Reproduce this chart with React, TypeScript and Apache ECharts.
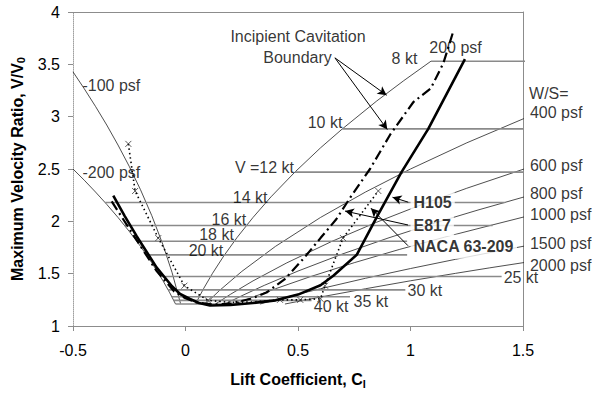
import React, { useEffect, useRef } from "react";
import * as echarts from "echarts";

const FONT = '"Liberation Sans", Arial, Helvetica, sans-serif';

// axes
const xMin = -0.5;
const xMax = 1.5;
const xStep = 0.5;
const yMin = 1;
const yMax = 4;
const yStep = 0.5;

// constant speed lines (V/V0 level, start Cl, end Cl)
const speedNames = ["8 kt", "10 kt", "V =12 kt", "14 kt", "16 kt", "18 kt", "20 kt", "25 kt", "30 kt", "35 kt", "40 kt", ""];
const speedRatio = [3.53, 2.883, 2.47, 2.18, 1.96, 1.81, 1.68, 1.473, 1.345, 1.28, 1.245, 1.21];
const speedFrom = [1.091, 0.697, 0.486, -0.357, -0.271, -0.217, -0.174, -0.111, -0.077, -0.061, -0.053, -0.044];
const speedTo = [1.52, 1.5, 1.5, 1.42, 1.365, 0.985, 0.985, 1.405, 0.977, 0.731, 0.56, 0.25];
const speedLabelX = [0.973, 0.62, 0.351, 0.287, 0.193, 0.138, 0.091, 1.491, 1.064, 0.824, 0.647, 0];
const speedLabelY = [3.555, 2.94, 2.514, 2.23, 2.013, 1.872, 1.722, 1.464, 1.336, 1.237, 1.189, 0];

// constant wing loading lines
const wsNeg100 = [[-0.5, 3.428], [-0.45, 3.267], [-0.4, 3.098], [-0.35, 2.92], [-0.3, 2.729], [-0.25, 2.525], [-0.2, 2.302], [-0.15, 2.055], [-0.1, 1.775], [-0.06, 1.513], [-0.022, 1.214]];
const wsNeg200 = [[-0.5, 2.5], [-0.45, 2.393], [-0.4, 2.28], [-0.35, 2.162], [-0.3, 2.037], [-0.25, 1.904], [-0.2, 1.761], [-0.15, 1.605], [-0.1, 1.432], [-0.07, 1.317], [-0.044, 1.209]];
const ws200 = [[0.045, 1.213], [0.08, 1.356], [0.12, 1.503], [0.17, 1.669], [0.23, 1.848], [0.3, 2.037], [0.38, 2.234], [0.486, 2.47], [0.6, 2.702], [0.697, 2.883], [0.85, 3.15], [0.97, 3.344], [1.091, 3.53]];
const ws400 = [[0.088, 1.209], [0.15, 1.337], [0.25, 1.521], [0.4, 1.761], [0.6, 2.037], [0.8, 2.28], [1.0, 2.5], [1.25, 2.75], [1.513, 2.99]];
const ws600 = [[0.133, 1.21], [0.2, 1.303], [0.3, 1.431], [0.45, 1.603], [0.65, 1.808], [0.85, 1.992], [1.05, 2.16], [1.25, 2.316], [1.513, 2.506]];
const ws800 = [[0.175, 1.21], [0.25, 1.289], [0.35, 1.388], [0.5, 1.525], [0.7, 1.69], [0.9, 1.84], [1.1, 1.979], [1.3, 2.108], [1.513, 2.238]];
const ws1000 = [[0.221, 1.21], [0.3, 1.277], [0.4, 1.356], [0.55, 1.468], [0.75, 1.605], [0.95, 1.731], [1.15, 1.848], [1.35, 1.958], [1.51, 2.045]];
const ws1500 = [[0.331, 1.21], [0.45, 1.277], [0.6, 1.356], [0.8, 1.456], [1.0, 1.549], [1.2, 1.637], [1.35, 1.7], [1.505, 1.763]];
const ws2000 = [[0.442, 1.21], [0.6, 1.277], [0.8, 1.356], [1.0, 1.432], [1.2, 1.503], [1.35, 1.555], [1.51, 1.608]];
const wsCurves = [wsNeg100, wsNeg200, ws200, ws400, ws600, ws800, ws1000, ws1500, ws2000];

const wsLabels = ["-100 psf", "-200 psf", "200 psf", "W/S=", "400 psf", "600 psf", "800 psf", "1000 psf", "1500 psf", "2000 psf"];
const wsLabelX = [-0.458, -0.458, 1.2, 1.527, 1.531, 1.531, 1.531, 1.531, 1.531, 1.531];
const wsLabelY = [3.3, 2.467, 3.664, 3.224, 3.044, 2.538, 2.263, 2.069, 1.785, 1.582];
const wsLabelAlign = ["left", "left", "center", "left", "left", "left", "left", "left", "left", "left"];

// foil sections
const h105 = [[-0.321, 2.246], [-0.27, 2.05], [-0.217, 1.858], [-0.128, 1.558], [-0.06, 1.38], [-0.024, 1.306], [0.02, 1.258], [0.06, 1.22], [0.109, 1.196], [0.2, 1.2], [0.3, 1.22], [0.4, 1.245], [0.5, 1.3], [0.6, 1.39], [0.657, 1.48], [0.761, 1.68], [0.85, 2.04], [0.96, 2.47], [1.079, 2.883], [1.242, 3.55]];
const e817 = [[-0.328, 2.19], [-0.22, 1.83], [-0.13, 1.53], [-0.05, 1.33], [0.0, 1.265], [0.05, 1.225], [0.12, 1.205], [0.2, 1.215], [0.29, 1.26], [0.36, 1.32], [0.44, 1.445], [0.527, 1.65], [0.6, 1.84], [0.67, 2.02], [0.73, 2.22], [0.82, 2.5], [0.91, 2.83], [1.013, 3.14], [1.09, 3.27], [1.146, 3.51], [1.188, 3.8]];
const naca = [[-0.254, 2.74], [-0.224, 2.29], [-0.121, 1.84], [-0.005, 1.385], [0.1, 1.245], [0.2, 1.225], [0.3, 1.23], [0.42, 1.25], [0.51, 1.25], [0.6, 1.26], [0.62, 1.385], [0.7, 1.84], [0.857, 2.29]];
const nacaMarks = [[-0.254, 2.74], [-0.224, 2.29], [-0.121, 1.84], [-0.005, 1.385], [0.1, 1.245], [0.42, 1.25], [0.51, 1.25], [0.6, 1.26], [0.62, 1.385], [0.7, 1.84], [0.857, 2.29]];

const foilNames = ["H105", "E817", "NACA 63-209"];
const foilLabelX = [1.0, 1.0, 1.0];
const foilLabelY = [2.183, 1.961, 1.757];

// annotation texts and arrows
const noteTexts = ["Incipient Cavitation", "Boundary"];
const noteX = [0.5, 0.498];
const noteY = [3.766, 3.562];
const arrowFrom = [[0.664, 3.562], [0.664, 3.562], [0.99, 2.183], [0.989, 1.965], [0.989, 1.767]];
const arrowTo = [[0.894, 3.205], [0.897, 2.877], [0.92, 2.23], [0.709, 2.098], [0.824, 2.126]];

function buildOption() {
  const series: any[] = [];
  wsCurves.forEach((c) => {
    series.push({
      type: "line",
      data: c,
      symbol: "none",
      clip: false,
      silent: true,
      smooth: false,
      z: 2,
      lineStyle: { color: "#222", width: 0.8 },
    });
  });
  speedRatio.forEach((y, i) => {
    series.push({
      type: "line",
      data: [[speedFrom[i], y], [speedTo[i], y]],
      symbol: "none",
      clip: false,
      silent: true,
      z: 3,
      lineStyle: { color: "#8a8a8a", width: 1.6 },
    });
  });
  series.push({
    type: "line",
    data: naca,
    symbol: "none",
    silent: true,
    z: 5,
    lineStyle: { color: "#000", width: 1.6, type: [1.5, 3] },
  });
  series.push({
    type: "scatter",
    data: nacaMarks,
    symbol: "path://M0,0L10,10M10,0L0,10",
    symbolSize: 6,
    silent: true,
    z: 6,
    itemStyle: { color: "none", borderColor: "#333", borderWidth: 1 },
  });
  series.push({
    type: "line",
    data: e817,
    symbol: "none",
    silent: true,
    z: 6,
    lineStyle: { color: "#000", width: 2.2, type: [10, 4, 2, 4] },
  });
  series.push({
    type: "line",
    data: h105,
    symbol: "none",
    silent: true,
    z: 7,
    lineStyle: { color: "#000", width: 2.6 },
  });

  const labelItems: any[] = [];
  speedNames.forEach((n, i) => {
    if (!n) return;
    labelItems.push({
      value: [speedLabelX[i], speedLabelY[i]],
      label: { formatter: n, align: "center", verticalAlign: "middle", lineHeight: 12 },
    });
  });
  wsLabels.forEach((n, i) => {
    labelItems.push({
      value: [wsLabelX[i], wsLabelY[i]],
      label: { formatter: n, align: wsLabelAlign[i], verticalAlign: "middle", lineHeight: 14 },
    });
  });
  noteTexts.forEach((n, i) => {
    labelItems.push({
      value: [noteX[i], noteY[i]],
      label: { formatter: n, align: "center", verticalAlign: "middle", lineHeight: 16 },
    });
  });
  const pads = [
    [1, 3, 3, 3],
    [1, 3, 4, 3],
    [0, 3, 8, 3],
  ];
  foilNames.forEach((n, i) => {
    labelItems.push({
      value: [foilLabelX[i], foilLabelY[i]],
      label: {
        formatter: n,
        align: "left",
        verticalAlign: "middle",
        fontWeight: "bold",
        backgroundColor: "#fff",
        padding: pads[i],
      },
    });
  });
  series.push({
    type: "scatter",
    data: labelItems,
    symbolSize: 1,
    clip: false,
    silent: true,
    z: 10,
    itemStyle: { color: "rgba(0,0,0,0)" },
    label: {
      show: true,
      position: "inside",
      color: "#000",
      fontSize: 16,
      fontFamily: FONT,
    },
  });
  series.push({
    type: "line",
    data: [],
    silent: true,
    z: 11,
    markLine: {
      silent: true,
      symbol: ["none", "arrow"],
      symbolSize: [7, 9],
      label: { show: false },
      lineStyle: { color: "#000", width: 1, type: "solid" },
      data: arrowFrom.map((f, i) => [{ coord: f }, { coord: arrowTo[i] }]),
    },
  });

  const axisColor = "#8c8c8c";
  return {
    animation: false,
    backgroundColor: "#fff",
    textStyle: { fontFamily: FONT },
    grid: { left: 73, right: 79, top: 12, bottom: 65, containLabel: false },
    xAxis: [
      {
        type: "value",
        min: xMin,
        max: xMax,
        interval: xStep,
        position: "bottom",
        axisLine: { show: true, onZero: false, lineStyle: { color: axisColor, width: 1 } },
        axisTick: { show: true, inside: false, length: 5, lineStyle: { color: axisColor } },
        axisLabel: { margin: 16, fontSize: 16, color: "#000", fontFamily: FONT },
        splitLine: { show: false },
        name: "Lift Coefficient, C{sub|l}",
        nameLocation: "middle",
        nameGap: 44,
        nameTextStyle: {
          fontSize: 16,
          fontWeight: "bold",
          color: "#000",
          fontFamily: FONT,
          rich: { sub: { fontSize: 11, fontWeight: "bold", fontFamily: FONT, color: "#000", padding: [8, 0, 0, 0] } },
        },
      },
      {
        type: "value",
        min: xMin,
        max: xMax,
        position: "top",
        axisLine: { show: true, onZero: false, lineStyle: { color: axisColor, width: 1 } },
        axisTick: { show: false },
        axisLabel: { show: false },
        splitLine: { show: false },
      },
    ],
    yAxis: [
      {
        type: "value",
        min: yMin,
        max: yMax,
        interval: yStep,
        position: "left",
        axisLine: { show: true, onZero: false, lineStyle: { color: "#a0a0a0", width: 1, type: "dotted" } },
        axisTick: { show: true, inside: false, length: 5, lineStyle: { color: axisColor } },
        axisLabel: { margin: 13, fontSize: 16, color: "#000", fontFamily: FONT },
        splitLine: { show: false },
        name: "Maximum Velocity Ratio, V/V{sub|0}",
        nameLocation: "middle",
        nameGap: 45,
        nameRotate: 90,
        nameTextStyle: {
          fontSize: 16,
          fontWeight: "bold",
          color: "#000",
          fontFamily: FONT,
          rich: { sub: { fontSize: 11, fontWeight: "bold", fontFamily: FONT, color: "#000", padding: [8, 0, 0, 0] } },
        },
      },
      {
        type: "value",
        min: yMin,
        max: yMax,
        position: "right",
        axisLine: { show: true, onZero: false, lineStyle: { color: axisColor, width: 1 } },
        axisTick: { show: false },
        axisLabel: { show: false },
        splitLine: { show: false },
      },
    ],
    series,
  };
}

export default function App() {
  const ref = useRef<HTMLDivElement>(null);
  useEffect(() => {
    if (!ref.current) return;
    const chart = echarts.init(ref.current, null, { renderer: "svg" });
    chart.setOption(buildOption() as any);
    return () => {
      chart.dispose();
    };
  }, []);
  return (
    <div
      ref={ref}
      style={{ position: "fixed", left: 0, top: 0, width: 602, height: 394, background: "#fff" }}
    />
  );
}
